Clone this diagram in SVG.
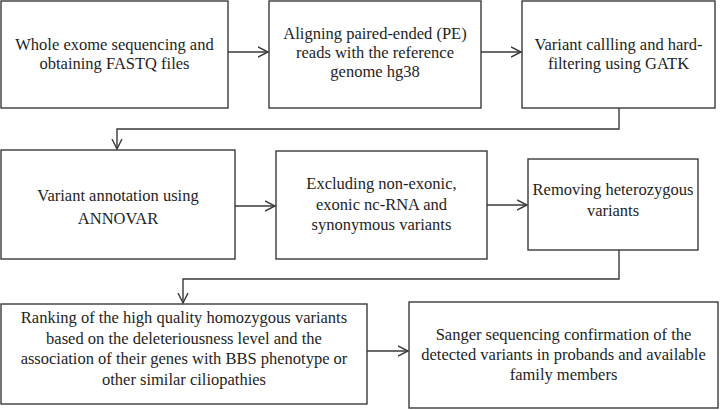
<svg xmlns="http://www.w3.org/2000/svg" width="721" height="410" viewBox="0 0 721 410">
<defs>
<style>
.box{fill:#fff;stroke:#3a3a3a;stroke-width:1.4}
.lbl{font-family:'Liberation Serif','DejaVu Serif',serif;font-size:16.5px;fill:#1e1e1e;text-anchor:middle}
.con{fill:none;stroke:#3a3a3a;stroke-width:1.4}
</style>
<marker id="arr" markerUnits="userSpaceOnUse" markerWidth="12" markerHeight="12" refX="10" refY="5" orient="auto" viewBox="0 0 12 10">
<path d="M0,0 L10,5 L0,10" fill="none" stroke="#3a3a3a" stroke-width="1.4"/>
</marker>
</defs>
<rect width="721" height="410" fill="#fff"/>
<g id="n1"><rect class="box" x="1" y="1" width="227" height="107"/>
<text class="lbl" x="114.5" y="50">Whole exome sequencing and</text>
<text class="lbl" x="114.5" y="69">obtaining FASTQ files</text></g>
<g id="n2"><rect class="box" x="269" y="1" width="212" height="107"/>
<text class="lbl" x="375" y="39">Aligning paired-ended (PE)</text>
<text class="lbl" x="375" y="58">reads with the reference</text>
<text class="lbl" x="375" y="77">genome hg38</text></g>
<g id="n3"><rect class="box" x="522" y="1" width="193" height="107"/>
<text class="lbl" x="618.5" y="50">Variant callling and hard-</text>
<text class="lbl" x="618.5" y="69">filtering using GATK</text></g>
<g id="n4"><rect class="box" x="1" y="150" width="234" height="109"/>
<text class="lbl" x="118" y="201">Variant annotation using</text>
<text class="lbl" x="118" y="224">ANNOVAR</text></g>
<g id="n5"><rect class="box" x="276" y="151" width="211" height="108"/>
<text class="lbl" x="381.5" y="189">Excluding non-exonic,</text>
<text class="lbl" x="381.5" y="210">exonic nc-RNA and</text>
<text class="lbl" x="381.5" y="230">synonymous variants</text></g>
<g id="n6"><rect class="box" x="528" y="159" width="170" height="91"/>
<text class="lbl" x="613" y="195">Removing heterozygous</text>
<text class="lbl" x="613" y="216">variants</text></g>
<g id="n7"><rect class="box" x="1" y="304" width="366" height="100"/>
<text class="lbl" x="184" y="323">Ranking of the high quality homozygous variants</text>
<text class="lbl" x="184" y="343.5">based on the deleteriousness level and the</text>
<text class="lbl" x="184" y="364">association of their genes with BBS phenotype or</text>
<text class="lbl" x="184" y="384.5">other similar ciliopathies</text></g>
<g id="n8"><rect class="box" x="409" y="302" width="309" height="106"/>
<text class="lbl" x="563.5" y="340">Sanger sequencing confirmation of the</text>
<text class="lbl" x="563.5" y="360">detected variants in probands and available</text>
<text class="lbl" x="563.5" y="380">family members</text></g>
<g id="connectors">
<path class="con" d="M228,52 H268" marker-end="url(#arr)"/>
<path class="con" d="M481,52 H521" marker-end="url(#arr)"/>
<path class="con" d="M619,108 V129 H117 V149" marker-end="url(#arr)"/>
<path class="con" d="M235,206 H275" marker-end="url(#arr)"/>
<path class="con" d="M487,205 H527" marker-end="url(#arr)"/>
<path class="con" d="M619,250 V279 H183 V303" marker-end="url(#arr)"/>
<path class="con" d="M367,351 H408" marker-end="url(#arr)"/>
</g>
</svg>
